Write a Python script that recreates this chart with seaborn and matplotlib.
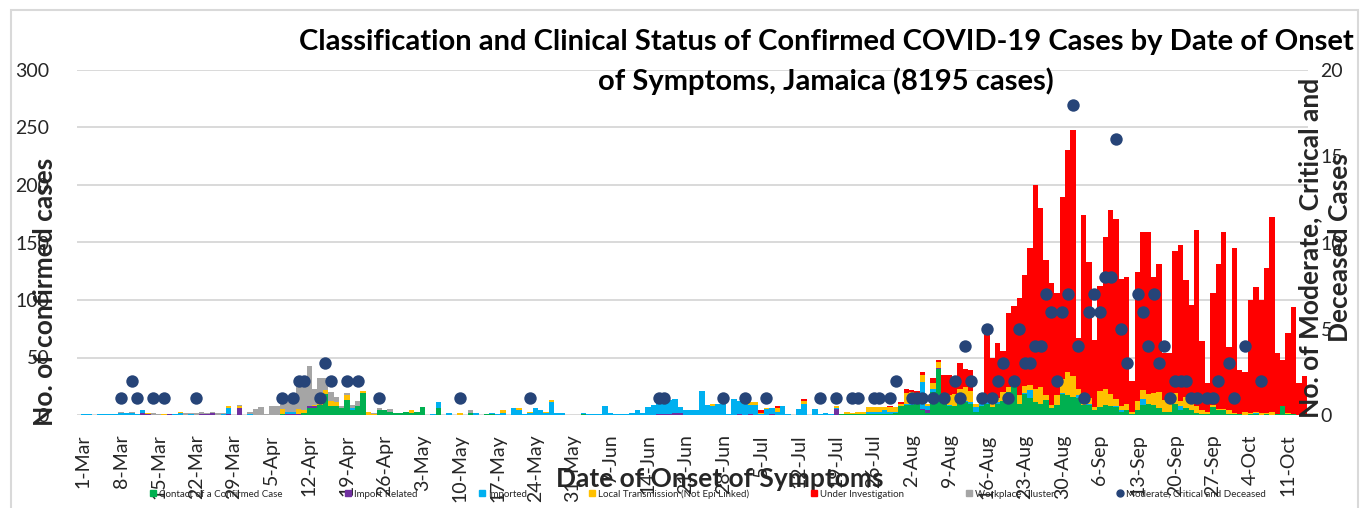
import numpy as np
import pandas as pd
import matplotlib
matplotlib.use("Agg")
import matplotlib.pyplot as plt
from matplotlib.lines import Line2D
from matplotlib.patches import Rectangle
import seaborn as sns

# Daily counts by date of onset, 1-Mar to 14-Oct (one row = one week)
start_date = "2020-03-01"
n_days = 228

categories = [
    "Contact of a Confirmed Case",
    "Import Related",
    "Imported",
    "Local Transmission (Not Epi Linked)",
    "Under Investigation",
    "Workplace Cluster",
]
colors = ["#00B050", "#7030A0", "#00B0F0", "#FFC000", "#FF0000", "#A5A5A5"]
dot_label = "Moderate, Critical and Deceased"

contact = [
    0, 0, 0, 0, 0, 0, 0,
    0, 0, 0, 0, 0, 0, 0,
    0, 0, 0, 0, 0, 0, 0,
    0, 0, 0, 0, 0, 0, 0,
    0, 0, 0, 0, 0, 0, 0,
    0, 0, 1, 0, 0, 0, 2,
    6, 6, 9, 18, 8, 8, 6,
    13, 4, 8, 19, 0, 0, 4,
    4, 3, 2, 2, 3, 2, 3,
    7, 0, 0, 6, 0, 0, 0,
    0, 0, 2, 0, 0, 1, 1,
    0, 0, 0, 0, 0, 0, 0,
    0, 0, 0, 0, 0, 0, 0,
    0, 0, 1, 0, 0, 0, 0,
    0, 0, 0, 0, 0, 0, 0,
    0, 0, 0, 0, 0, 0, 0,
    0, 0, 0, 0, 0, 0, 0,
    0, 0, 0, 0, 0, 0, 0,
    0, 0, 0, 0, 0, 0, 0,
    0, 0, 0, 0, 0, 0, 0,
    0, 1, 1, 1, 1, 1, 1,
    1, 1, 1, 1, 2, 8, 9,
    9, 10, 4, 2, 20, 40, 10,
    8, 8, 11, 11, 10, 3, 8,
    10, 7, 10, 12, 20, 24, 10,
    18, 15, 11, 10, 13, 6, 9,
    18, 17, 16, 15, 9, 9, 4,
    7, 9, 8, 7, 3, 4, 1,
    4, 9, 10, 9, 6, 3, 3,
    10, 4, 6, 4, 2, 1, 1,
    7, 4, 4, 1, 1, 1, 0,
    1, 1, 0, 1, 0, 1, 8,
    1, 1, 0, 1,
]

import_related = [
    0, 0, 0, 0, 0, 0, 0,
    0, 0, 0, 0, 2, 1, 0,
    0, 0, 1, 0, 0, 0, 0,
    0, 1, 1, 2, 0, 0, 1,
    0, 6, 0, 0, 0, 0, 0,
    0, 0, 0, 1, 1, 1, 0,
    2, 2, 0, 0, 0, 0, 0,
    0, 0, 0, 0, 0, 0, 0,
    0, 0, 0, 0, 0, 0, 0,
    0, 0, 0, 0, 0, 0, 0,
    0, 0, 0, 0, 0, 0, 0,
    0, 0, 0, 0, 0, 0, 0,
    0, 0, 0, 0, 0, 0, 0,
    0, 0, 0, 0, 0, 0, 0,
    0, 0, 0, 0, 0, 0, 0,
    0, 0, 1, 1, 1, 2, 2,
    0, 0, 0, 0, 0, 0, 0,
    0, 0, 0, 1, 0, 1, 0,
    0, 0, 1, 0, 0, 0, 0,
    0, 0, 0, 0, 0, 0, 0,
    5, 0, 0, 0, 0, 0, 0,
    0, 0, 0, 0, 0, 0, 0,
    0, 0, 1, 2, 0, 1, 0,
    0, 0, 0, 0, 0, 0, 0,
    0, 0, 0, 0, 0, 0, 0,
    0, 0, 0, 0, 0, 0, 0,
    0, 0, 0, 0, 0, 0, 0,
    0, 0, 0, 0, 0, 0, 0,
    0, 0, 0, 0, 0, 0, 0,
    0, 0, 0, 0, 0, 0, 0,
    0, 0, 0, 0, 0, 0, 0,
    0, 0, 0, 0, 0, 0, 0,
    0, 0, 0, 0,
]

imported = [
    1, 1, 0, 1, 1, 1, 1,
    2, 2, 2, 1, 2, 0, 0,
    0, 0, 0, 1, 2, 0, 1,
    0, 0, 0, 0, 0, 1, 5,
    0, 0, 0, 1, 0, 0, 0,
    0, 0, 0, 2, 2, 0, 0,
    0, 0, 0, 0, 0, 0, 0,
    0, 2, 0, 0, 0, 0, 0,
    0, 0, 0, 0, 0, 0, 0,
    0, 0, 1, 5, 0, 2, 0,
    0, 0, 0, 2, 0, 0, 1,
    1, 2, 0, 6, 4, 1, 2,
    6, 4, 2, 11, 2, 2, 0,
    0, 0, 1, 1, 1, 1, 8,
    2, 1, 1, 1, 2, 4, 2,
    7, 9, 10, 10, 12, 12, 5,
    4, 4, 4, 21, 9, 8, 10,
    10, 1, 14, 11, 10, 8, 9,
    1, 5, 5, 3, 8, 1, 0,
    5, 10, 0, 5, 1, 2, 1,
    1, 0, 0, 0, 0, 0, 2,
    2, 2, 3, 2, 1, 0, 1,
    2, 0, 24, 4, 3, 0, 1,
    1, 0, 2, 1, 1, 4, 2,
    2, 0, 1, 0, 0, 2, 0,
    1, 7, 0, 0, 0, 0, 0,
    1, 0, 0, 2, 0, 1, 0,
    0, 0, 0, 1, 1, 0, 0,
    0, 5, 0, 0, 0, 0, 0,
    0, 4, 0, 0, 0, 0, 0,
    0, 0, 0, 0, 0, 0, 0,
    0, 1, 0, 0, 0, 0, 0,
    0, 0, 0, 0,
]

local_transmission = [
    0, 0, 0, 0, 0, 0, 0,
    0, 0, 0, 0, 0, 1, 0,
    0, 1, 0, 0, 1, 0, 0,
    0, 0, 0, 0, 0, 0, 2,
    0, 2, 0, 0, 0, 0, 0,
    0, 0, 4, 0, 0, 4, 2,
    0, 1, 3, 4, 4, 3, 0,
    4, 0, 0, 2, 3, 1, 0,
    0, 0, 0, 0, 0, 2, 0,
    0, 0, 0, 0, 0, 0, 0,
    2, 0, 0, 0, 0, 0, 0,
    0, 2, 0, 0, 2, 0, 1,
    0, 0, 1, 2, 0, 0, 0,
    0, 0, 0, 0, 0, 0, 0,
    0, 0, 0, 0, 0, 0, 0,
    0, 0, 0, 0, 0, 0, 0,
    0, 0, 0, 0, 0, 2, 0,
    0, 0, 0, 0, 2, 2, 2,
    1, 1, 0, 3, 0, 0, 0,
    0, 2, 0, 0, 0, 0, 0,
    2, 0, 2, 1, 2, 2, 4,
    4, 4, 3, 4, 4, 2, 9,
    9, 8, 6, 2, 5, 5, 4,
    8, 10, 10, 12, 10, 3, 6,
    3, 3, 4, 8, 4, 3, 7,
    6, 4, 12, 14, 4, 3, 8,
    12, 20, 18, 6, 9, 5, 3,
    14, 14, 10, 6, 4, 6, 2,
    8, 8, 8, 10, 14, 10, 9,
    9, 4, 10, 10, 6, 3, 2,
    2, 1, 1, 3, 1, 0, 3,
    1, 1, 2, 1, 3, 0, 0,
    1, 0, 0, 0,
]

under_investigation = [
    0, 0, 0, 0, 0, 0, 0,
    0, 0, 0, 0, 0, 0, 0,
    0, 0, 0, 0, 0, 0, 0,
    0, 0, 0, 0, 0, 0, 0,
    0, 0, 0, 0, 0, 0, 0,
    0, 0, 0, 0, 0, 0, 0,
    0, 0, 0, 0, 0, 0, 0,
    0, 0, 0, 0, 0, 0, 0,
    0, 0, 0, 0, 0, 0, 0,
    0, 0, 0, 0, 0, 0, 0,
    0, 0, 0, 0, 0, 0, 0,
    0, 0, 0, 0, 0, 0, 0,
    0, 0, 0, 0, 0, 0, 0,
    0, 0, 0, 0, 0, 0, 0,
    0, 0, 0, 0, 0, 0, 0,
    0, 0, 0, 0, 0, 0, 0,
    0, 0, 0, 0, 0, 0, 0,
    0, 0, 0, 0, 0, 0, 0,
    2, 0, 0, 2, 0, 0, 0,
    0, 2, 0, 0, 0, 0, 0,
    0, 0, 0, 0, 0, 0, 0,
    0, 0, 0, 1, 0, 1, 4,
    2, 3, 2, 0, 4, 2, 20,
    18, 15, 22, 16, 18, 0, 3,
    57, 40, 48, 36, 65, 66, 85,
    97, 119, 177, 156, 118, 106, 89,
    159, 193, 214, 44, 156, 118, 58,
    91, 132, 160, 156, 110, 110, 27,
    112, 137, 141, 101, 111, 41, 42,
    124, 136, 101, 82, 153, 60, 25,
    97, 126, 154, 55, 143, 38, 34,
    98, 108, 98, 126, 169, 53, 40,
    69, 93, 28, 33,
]

workplace_cluster = [
    0, 0, 0, 0, 0, 0, 0,
    1, 0, 1, 0, 0, 0, 2,
    1, 0, 0, 0, 0, 2, 1,
    2, 2, 1, 1, 2, 1, 0,
    0, 1, 0, 2, 5, 7, 1,
    8, 8, 5, 8, 9, 22, 26,
    35, 14, 20, 10, 8, 5, 2,
    2, 3, 4, 0, 0, 1, 2,
    0, 2, 0, 0, 0, 0, 0,
    0, 0, 0, 0, 0, 0, 0,
    0, 0, 2, 0, 0, 0, 0,
] + [0] * 151

# Moderate, critical and deceased cases (secondary axis)
mcd_days = [
    7, 9, 10, 13, 15, 21, 37, 39, 40, 41, 44, 45, 46, 49, 51, 55, 70, 83,
    107, 108, 119, 123, 127, 137, 140, 143, 144, 147, 148, 150, 151,
    154, 155, 156, 158, 160, 162, 163, 164, 165, 167, 168, 169, 170, 171,
    172, 173, 174, 175, 176, 177, 178, 179, 180, 181, 182, 183, 184, 185,
    186, 187, 188, 189, 190, 191, 192, 193, 194, 196, 197, 198, 199, 200,
    201, 202, 203, 204, 205, 206, 207, 209, 210, 211, 213, 214, 216, 219,
]
mcd_values = [
    1, 2, 1, 1, 1, 1, 1, 1, 2, 2, 1, 3, 2, 2, 2, 1, 1, 1,
    1, 1, 1, 1, 1, 1, 1, 1, 1, 1, 1, 1, 2,
    1, 1, 1, 1, 1, 2, 1, 4, 2, 1, 5, 1, 2, 3,
    1, 2, 5, 3, 3, 4, 4, 7, 6, 2, 6, 7, 18, 4,
    1, 6, 7, 6, 8, 8, 16, 5, 3, 7, 6, 4, 7, 3,
    4, 1, 2, 2, 2, 1, 1, 1, 1, 2, 3, 1, 4, 2,
]

title = ("Classification and Clinical Status of Confirmed COVID-19 Cases by Date of Onset\n"
         "of Symptoms, Jamaica (8195 cases)")

sns.set_style("white")
plt.rcParams["font.family"] = ["Lato", "DejaVu Sans"]
text_color = "#262626"

W, H = 1369, 508
fig = plt.figure(figsize=(W / 100, H / 100), dpi=100)
ax = fig.add_axes([77 / W, 1 - 415 / H, (1308 - 77) / W, (415 - 70) / H])

days = np.arange(n_days)
series = [contact, import_related, imported, local_transmission,
          under_investigation, workplace_cluster]
long_df = pd.concat(
    [pd.DataFrame({"day": days, "cases": vals, "category": cat})
     for cat, vals in zip(categories, series)],
    ignore_index=True,
)

# seaborn puts the first hue level on top of the stack, so feed it reversed
sns.histplot(
    data=long_df, x="day", weights="cases", hue="category",
    hue_order=categories[::-1], palette=colors[::-1], multiple="stack",
    discrete=True, shrink=1, alpha=1, linewidth=0, legend=False, ax=ax,
)

ax.set_xlim(-1.2, 227.7)
ax.set_ylim(0, 300)
ax.set_yticks(range(0, 301, 50))
ax.grid(axis="y", color="#d9d9d9", linewidth=1.4)
ax.grid(axis="x", visible=False)
ax.set_axisbelow(True)
for s in ax.spines.values():
    s.set_visible(False)

dates = pd.date_range(start_date, periods=n_days)
tick_pos = days[::7]
ax.set_xticks(tick_pos)
ax.set_xticklabels([f"{d.day}-{d.strftime('%b')}" for d in dates[tick_pos]],
                   rotation=90)
ax.tick_params(axis="x", length=0, pad=14, labelsize=14, labelcolor=text_color)
ax.tick_params(axis="y", length=0, pad=20, labelsize=14, labelcolor=text_color)
ax.set_xlabel("")
ax.set_ylabel("")

ax2 = ax.twinx()
sns.scatterplot(x=mcd_days, y=mcd_values, color="#264478", s=80,
                linewidth=0, ax=ax2, zorder=5)
ax2.set_ylim(0, 20)
ax2.set_yticks(range(0, 21, 5))
ax2.tick_params(axis="y", length=0, pad=9, labelsize=14, labelcolor=text_color)
ax2.grid(False)
for s in ax2.spines.values():
    s.set_visible(False)

# titles and axis labels
fig.text(826 / W, 1 - 62 / H, title, ha="center", va="center",
         fontsize=21, fontweight="bold", linespacing=1.55, color="black")
fig.text(45 / W, 1 - 292 / H, "No. of confirmed cases", rotation=90,
         ha="center", va="center", fontsize=19, fontweight="bold")
fig.text(1325 / W, 1 - 248 / H, "No. of Moderate, Critical and\nDeceased Cases",
         rotation=90, ha="center", va="center", fontsize=19,
         fontweight="bold", linespacing=1.3)
fig.text(720 / W, 1 - 479 / H, "Date of Onset of Symptoms", ha="center",
         va="center", fontsize=19, fontweight="bold")

# legend along the bottom
handles = [Line2D([], [], marker="s", linestyle="none", color=c, markersize=5)
           for c in colors]
handles.append(Line2D([], [], marker="o", linestyle="none", color="#264478",
                      markersize=5))
fig.legend(handles, categories + [dot_label], loc="center",
           bbox_to_anchor=(708 / W, 1 - 494 / H), ncol=7, frameon=False,
           fontsize=7, columnspacing=6.4, handlelength=0.6,
           handletextpad=0.3, labelcolor=text_color)

fig.patches.append(Rectangle((11 / W, -0.02), (1358 - 11) / W, 1 - 10 / H + 0.02,
                             transform=fig.transFigure, fill=False,
                             edgecolor="#d9d9d9", linewidth=1.5))

fig.savefig("out.png", dpi=100)
